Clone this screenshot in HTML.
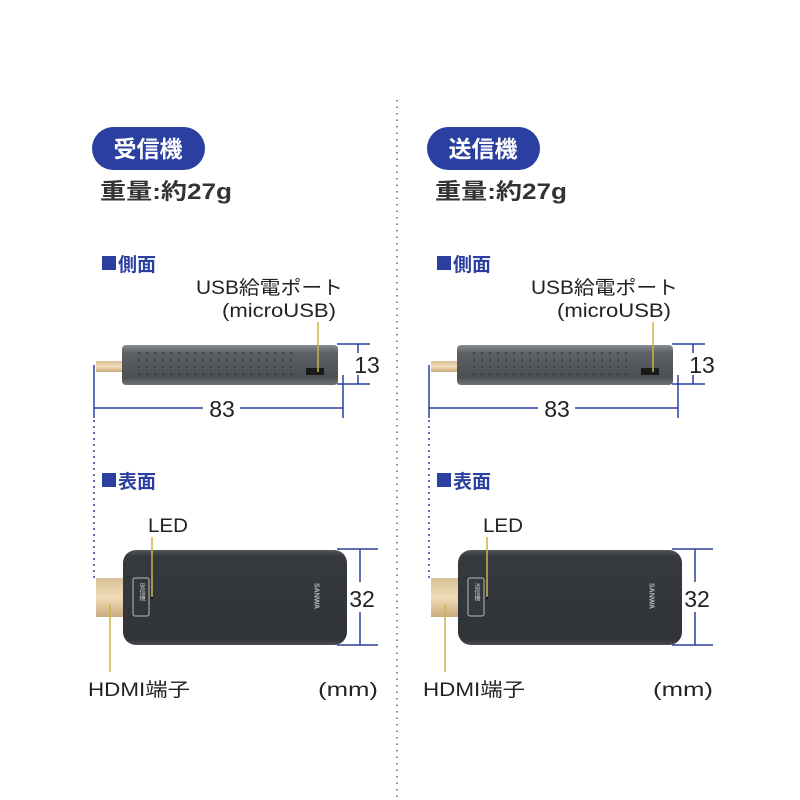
<!DOCTYPE html>
<html><head><meta charset="utf-8"><style>
html,body{margin:0;padding:0;background:#fff}
svg{display:block}
text{font-family:"Liberation Sans","Noto Sans CJK JP",sans-serif}
</style></head><body>
<svg width="800" height="800" viewBox="0 0 800 800" xmlns="http://www.w3.org/2000/svg">
<defs>
<linearGradient id="side" x1="0" y1="0" x2="0" y2="1">
<stop offset="0" stop-color="#8a8d92"/><stop offset="0.2" stop-color="#5d6065"/><stop offset="0.8" stop-color="#4c4f54"/><stop offset="1" stop-color="#6e7176"/>
</linearGradient>
<linearGradient id="front" x1="0" y1="0" x2="0" y2="1">
<stop offset="0" stop-color="#55585c"/><stop offset="0.06" stop-color="#36393d"/><stop offset="0.94" stop-color="#303337"/><stop offset="1" stop-color="#4a4d51"/>
</linearGradient>
<linearGradient id="gold" x1="0" y1="0" x2="0" y2="1">
<stop offset="0" stop-color="#d9c29a"/><stop offset="0.5" stop-color="#f0dcb8"/><stop offset="1" stop-color="#c9ab7c"/>
</linearGradient>
<pattern id="holes" width="8" height="7" patternUnits="userSpaceOnUse">
<circle cx="3" cy="3" r="1" fill="#2d2f33"/>
</pattern>
<g id="panel">
<rect x="92" y="127" width="113" height="43" rx="21.5" fill="#2a3f9f"/>
<text x="148" y="157" font-size="23" font-weight="bold" fill="#fff" text-anchor="middle">受信機</text>
<text x="100" y="199" font-size="22" font-weight="bold" fill="#333" textLength="132" lengthAdjust="spacingAndGlyphs">重量:約27g</text>
<rect x="102" y="256" width="14" height="14" fill="#2a3f9f"/>
<text x="118" y="271" font-size="19" font-weight="bold" fill="#2a3f9f">側面</text>
<text x="196" y="294" font-size="19" fill="#222" textLength="147" lengthAdjust="spacingAndGlyphs">USB給電ポート</text>
<text x="222" y="317" font-size="19" fill="#222" textLength="114" lengthAdjust="spacingAndGlyphs">(microUSB)</text>
<rect x="96" y="361" width="28" height="11" fill="url(#gold)"/>
<rect x="122" y="345" width="216" height="40" rx="4" fill="url(#side)"/>
<rect x="138" y="352" width="160" height="26" fill="url(#holes)" opacity="0.8"/>
<rect x="306" y="368" width="18" height="7" fill="#1a1a1a"/>
<line x1="318" y1="322" x2="318" y2="372" stroke="#c8b640" stroke-width="1.5"/>
<g stroke="#2a3f9f" stroke-width="1.5" fill="none">
<line x1="337" y1="344" x2="370" y2="344"/><line x1="337" y1="384" x2="370" y2="384"/>
<line x1="358" y1="344" x2="358" y2="384"/>
<line x1="94" y1="365" x2="94" y2="418"/><line x1="343" y1="375" x2="343" y2="418"/>
<line x1="94" y1="408" x2="203" y2="408"/><line x1="240" y1="408" x2="343" y2="408"/>
<line x1="94" y1="420" x2="94" y2="580" stroke-dasharray="2 4"/>
<line x1="337" y1="549" x2="378" y2="549"/><line x1="337" y1="645" x2="378" y2="645"/>
<line x1="360" y1="549" x2="360" y2="582"/><line x1="360" y1="612" x2="360" y2="645"/>
</g>
<rect x="350" y="353" width="30" height="22" fill="#fff"/>
<text x="367" y="373" font-size="23" fill="#222" text-anchor="middle">13</text>
<text x="222" y="417" font-size="23" fill="#222" text-anchor="middle">83</text>
<rect x="102" y="473" width="14" height="14" fill="#2a3f9f"/>
<text x="118" y="488" font-size="19" font-weight="bold" fill="#2a3f9f">表面</text>
<text x="148" y="532" font-size="19" fill="#222" textLength="40" lengthAdjust="spacingAndGlyphs">LED</text>
<rect x="96" y="578" width="30" height="39" fill="url(#gold)"/>
<rect x="123" y="550" width="224" height="95" rx="13" fill="url(#front)"/>
<rect x="133" y="578" width="16" height="38" rx="2" fill="none" stroke="#bbb" stroke-width="1"/>
<text x="141" y="583" font-size="6" fill="#ccc" writing-mode="tb">受信機</text>
<text x="316" y="583" font-size="7" font-weight="bold" fill="#bbb" writing-mode="tb">SANWA</text>
<line x1="152" y1="537" x2="152" y2="597" stroke="#c8b640" stroke-width="1.5"/>
<circle cx="152" cy="598" r="1.2" fill="#111"/>
<line x1="110" y1="605" x2="110" y2="672" stroke="#c8b640" stroke-width="1.5"/>
<text x="362" y="607" font-size="23" fill="#222" text-anchor="middle">32</text>
<text x="88" y="696" font-size="19" fill="#222" textLength="102" lengthAdjust="spacingAndGlyphs">HDMI端子</text>
<text x="318" y="696" font-size="19" fill="#222" textLength="60" lengthAdjust="spacingAndGlyphs">(mm)</text>
</g>
</defs>
<use href="#panel"/>
<g transform="translate(335,0)">
<use href="#panel"/>
</g>
<rect x="435" y="135" width="98" height="30" fill="#2a3f9f"/>
<text x="483" y="157" font-size="23" font-weight="bold" fill="#fff" text-anchor="middle">送信機</text>
<rect x="469" y="581" width="14" height="33" fill="#34373b"/>
<text x="476" y="583" font-size="6" fill="#ccc" writing-mode="tb">送信機</text>
<line x1="397" y1="100" x2="397" y2="800" stroke="#666" stroke-width="1.5" stroke-dasharray="1.5 5"/>
</svg>
</body></html>
